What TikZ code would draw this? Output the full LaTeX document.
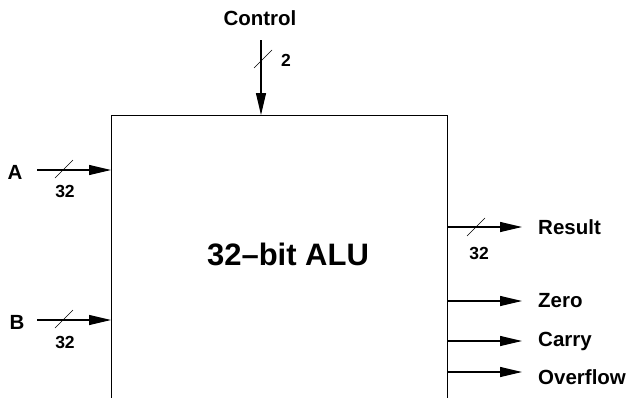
\documentclass[tikz,border=0pt]{standalone}
\usepackage{fontspec}
\setmainfont{Liberation Sans}
\usetikzlibrary{arrows.meta}
\begin{document}
\begin{tikzpicture}[x=1pt,y=-1pt,
  sig/.style={line width=1.2pt, -{Triangle[length=22pt,width=10pt]}},
  bus/.style={line width=0.6pt},
  lbl/.style={font=\fontsize{20.5}{20.5}\selectfont\bfseries, inner sep=0pt},
  num/.style={font=\fontsize{17.5}{17.5}\selectfont\bfseries, inner sep=0pt},
  box/.style={draw, line width=1.2pt, inner sep=0pt}]
\useasboundingbox (0,0) rectangle (631,397);
\clip (0,0) rectangle (631,397);
\node[box, anchor=north west, minimum width=336pt, minimum height=320pt] (alu) at (111,115) {};
\node[font=\fontsize{31}{31}\selectfont\bfseries, inner sep=0pt] (title) at (288,254) {32–bit ALU};
% Control
\node[lbl] (ctl) at (260,18) {Control};
\coordinate (ctlin) at (261,40);
\draw[sig] (ctlin) -- (ctlin |- alu.north);
\draw[bus] (254,68) -- (272,50);
\node[num] (n2) at (286,60) {2};
% A
\node[lbl] (a) at (15,172) {A};
\coordinate (ain) at (37,170);
\draw[sig] (ain) -- (ain -| alu.west);
\draw[bus] (55,178) -- (73,160);
\node[num] (na) at (65,191) {32};
% B
\node[lbl] (b) at (17,322) {B};
\coordinate (bin) at (37,320);
\draw[sig] (bin) -- (bin -| alu.west);
\draw[bus] (55,328) -- (73,310);
\node[num] (nb) at (65,342) {32};
% outputs
\coordinate (rout) at (522,227);
\draw[sig] (rout -| alu.east) -- (rout);
\draw[bus] (467,236) -- (485,218);
\node[num] (nr) at (479,253) {32};
\node[lbl, anchor=west] (res) at (538,227) {Result};
\coordinate (zout) at (522,301);
\draw[sig] (zout -| alu.east) -- (zout);
\node[lbl, anchor=west] (zero) at (538,301) {Zero};
\coordinate (cout) at (522,341);
\draw[sig] (cout -| alu.east) -- (cout);
\node[lbl, anchor=west] (carry) at (538,341) {Carry};
\coordinate (oout) at (522,372);
\draw[sig] (oout -| alu.east) -- (oout);
\node[lbl, anchor=west] (ovf) at (538,377) {Overflow};
\end{tikzpicture}
\end{document}
